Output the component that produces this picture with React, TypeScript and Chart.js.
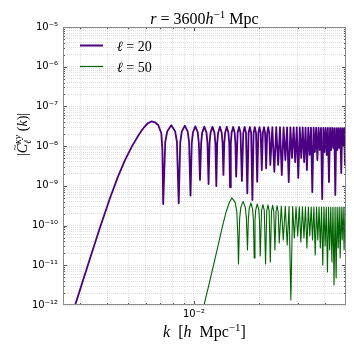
import React, { useEffect, useRef } from 'react';
import { Chart, registerables } from 'chart.js';

Chart.register(...registerables);

// ---- data (k in h/Mpc, |C| values) ----
const kL20 = [
  2.80e-3, 2.884e-3, 3.321e-3, 3.693e-3, 4.105e-3, 4.469e-3, 4.812e-3, 5.184e-3, 5.524e-3, 5.746e-3,
  5.949e-3, 6.141e-3, 6.388e-3, 6.61e-3, 6.85e-3, 7.08e-3, 7.16e-3, 7.22e-3,
  7.38e-3, 7.54e-3, 7.865e-3, 8.19e-3, 8.35e-3, 8.51e-3,
  8.65e-3, 8.79e-3, 9.075e-3, 9.36e-3, 9.50e-3, 9.64e-3,
  9.77e-3, 9.895e-3, 10.15e-3, 10.405e-3, 10.53e-3, 10.66e-3,
  10.79e-3, 10.91e-3, 11.165e-3, 11.42e-3, 11.54e-3, 11.67e-3,
  11.795e-3, 11.92e-3, 12.17e-3, 12.42e-3, 12.545e-3, 12.67e-3,
  12.79e-3, 12.92e-3, 13.165e-3, 13.41e-3, 13.54e-3, 13.66e-3,
  13.78e-3, 13.91e-3, 14.155e-3, 14.40e-3, 14.53e-3, 14.65e-3,
  14.77e-3, 14.895e-3, 15.14e-3, 15.385e-3, 15.51e-3, 15.63e-3,
  15.875e-3, 16.12e-3, 16.365e-3, 16.61e-3,
  16.855e-3, 17.10e-3, 17.345e-3, 17.59e-3,
  17.83e-3, 18.075e-3, 18.32e-3, 18.56e-3,
  18.80e-3, 19.045e-3, 19.29e-3, 19.53e-3,
  19.77e-3, 20.015e-3, 20.26e-3, 20.50e-3,
  20.74e-3, 20.985e-3, 21.23e-3, 21.47e-3,
  21.71e-3, 21.955e-3, 22.20e-3, 22.44e-3,
  22.925e-3, 23.41e-3, 23.895e-3, 24.38e-3, 24.86e-3, 25.34e-3, 25.825e-3, 26.31e-3,
  26.79e-3, 27.27e-3, 27.755e-3, 28.24e-3, 28.72e-3, 29.20e-3, 29.685e-3, 30.17e-3,
  30.65e-3, 31.13e-3, 31.615e-3, 32.10e-3, 32.58e-3, 33.06e-3, 33.545e-3, 34.03e-3,
  34.515e-3, 35.00e-3, 35.48e-3, 35.96e-3, 36.445e-3, 36.93e-3, 37.41e-3, 37.89e-3,
  38.375e-3, 38.86e-3, 39.34e-3, 39.82e-3, 40.305e-3, 40.79e-3, 41.27e-3, 41.75e-3,
  42.235e-3, 42.72e-3, 43.205e-3, 43.69e-3, 44.17e-3, 44.65e-3, 45.135e-3, 45.62e-3,
  46.10e-3, 46.58e-3, 47.065e-3, 47.55e-3, 48.03e-3, 48.51e-3, 48.995e-3, 49.48e-3,
  49.96e-3, 50.3e-3,
];
const cL20 = [
  7.9e-13, 1.27e-12, 1.44e-11, 8.69e-11, 4.81e-10, 1.68e-9, 4.38e-9, 9.86e-9, 1.78e-8, 2.47e-8,
  3.16e-8, 3.77e-8, 4.2e-8, 3.99e-8, 3.41e-8, 2.11e-8, 8.0e-9, 3.49e-10,
  1.27e-8, 2.38e-8, 3.35e-8, 2.38e-8, 1.27e-8, 3.64e-10,
  1.24e-8, 2.32e-8, 3.27e-8, 2.32e-8, 1.24e-8, 5.65e-10,
  1.20e-8, 2.24e-8, 3.15e-8, 2.24e-8, 1.20e-8, 1.41e-9,
  1.17e-8, 2.19e-8, 3.09e-8, 2.19e-8, 1.17e-8, 1.11e-9,
  1.17e-8, 2.19e-8, 3.08e-8, 2.19e-8, 1.17e-8, 9.9e-10,
  1.17e-8, 2.18e-8, 3.07e-8, 2.18e-8, 1.17e-8, 1.88e-9,
  1.16e-8, 2.17e-8, 3.06e-8, 2.17e-8, 1.16e-8, 9.2e-10,
  1.16e-8, 2.17e-8, 3.05e-8, 2.17e-8, 1.16e-8, 1.70e-9,
  2.17e-8, 3.05e-8, 2.17e-8, 1.33e-9,
  2.16e-8, 3.04e-8, 2.16e-8, 6.5e-10,
  2.15e-8, 3.03e-8, 2.15e-8, 4.4e-10,
  2.14e-8, 3.02e-8, 2.14e-8, 1.27e-9,
  2.14e-8, 3.02e-8, 2.14e-8, 2.51e-9,
  2.14e-8, 3.01e-8, 2.14e-8, 2.77e-9,
  2.13e-8, 3.0e-8, 2.13e-8, 3.36e-9,
  3.0e-8, 2.28e-9, 2.99e-8, 3.36e-9, 2.99e-8, 1.88e-9, 2.98e-8, 4.48e-9,
  2.98e-8, 1.25e-9, 2.97e-8, 5.04e-9, 2.97e-8, 3.99e-9, 2.96e-8, 1.58e-9,
  2.96e-8, 5.04e-9, 2.95e-8, 3.99e-9, 2.94e-8, 2.51e-9, 2.93e-8, 6.0e-9,
  2.92e-8, 7.0e-10, 2.92e-8, 7.13e-9, 2.91e-8, 4.48e-9, 2.90e-8, 8.0e-9,
  2.89e-8, 4.67e-10, 2.89e-8, 7.13e-9, 2.88e-8, 6.0e-9, 2.87e-8, 1.25e-9,
  2.86e-8, 8.0e-9, 2.86e-8, 9.0e-9, 2.85e-8, 5.9e-10, 2.84e-8, 8.0e-9,
  2.84e-8, 9.0e-9, 2.83e-8, 2.11e-9, 2.83e-8, 1.01e-8, 2.82e-8, 3.36e-9,
  2.82e-8, 2.6e-8,
];
const kL50 = [
  1.10e-2, 1.113e-2, 1.186e-2, 1.264e-2, 1.347e-2, 1.405e-2, 1.451e-2, 1.493e-2,
  1.546e-2, 1.574e-2, 1.591e-2, 1.602e-2,
  1.622e-2, 1.642e-2, 1.682e-2, 1.722e-2, 1.742e-2, 1.762e-2,
  1.778e-2, 1.7945e-2, 1.827e-2, 1.8595e-2, 1.876e-2, 1.892e-2,
  1.908e-2, 1.923e-2, 1.9545e-2, 1.986e-2, 2.001e-2, 2.017e-2,
  2.046e-2, 2.0755e-2, 2.105e-2, 2.134e-2,
  2.1615e-2, 2.189e-2, 2.2165e-2, 2.244e-2,
  2.272e-2, 2.30e-2, 2.328e-2, 2.356e-2,
  2.3835e-2, 2.411e-2, 2.4385e-2, 2.466e-2,
  2.5205e-2, 2.575e-2, 2.629e-2, 2.683e-2, 2.736e-2, 2.789e-2, 2.8415e-2, 2.894e-2,
  2.946e-2, 2.998e-2, 3.0495e-2, 3.101e-2, 3.1525e-2, 3.204e-2, 3.255e-2, 3.306e-2,
  3.357e-2, 3.408e-2, 3.4585e-2, 3.509e-2, 3.5595e-2, 3.610e-2, 3.66e-2, 3.710e-2,
  3.76e-2, 3.810e-2, 3.86e-2, 3.910e-2, 3.9595e-2, 4.009e-2, 4.0585e-2, 4.108e-2,
  4.1575e-2, 4.207e-2, 4.2565e-2, 4.306e-2, 4.3555e-2, 4.405e-2, 4.4545e-2, 4.504e-2,
  4.5535e-2, 4.603e-2, 4.6525e-2, 4.702e-2, 4.7515e-2, 4.801e-2, 4.8505e-2, 4.900e-2,
  4.9495e-2, 4.999e-2, 5.05e-2,
];
const cL50 = [
  7e-13, 1.0e-12, 4.27e-12, 1.92e-11, 8.69e-11, 2.20e-10, 3.71e-10, 4.96e-10,
  3.84e-10, 2.24e-10, 5.80e-11, 1.08e-11,
  1.54e-10, 2.88e-10, 4.06e-10, 2.88e-10, 1.54e-10, 2.43e-11,
  1.41e-10, 2.63e-10, 3.70e-10, 2.63e-10, 1.41e-10, 1.53e-11,
  1.33e-10, 2.48e-10, 3.49e-10, 2.48e-10, 1.33e-10, 1.71e-11,
  2.40e-10, 3.38e-10, 2.40e-10, 1.08e-11,
  2.34e-10, 3.30e-10, 2.34e-10, 1.21e-11,
  2.29e-10, 3.22e-10, 2.29e-10, 2.43e-11,
  2.24e-10, 3.16e-10, 2.24e-10, 3.64e-11,
  3.10e-10, 4.34e-11, 3.06e-10, 3.24e-11, 3.03e-10, 1.34e-12, 3.0e-10, 4.86e-11,
  2.98e-10, 5.47e-11, 2.97e-10, 3.87e-11, 2.96e-10, 4.86e-11, 2.95e-10, 2.72e-11,
  2.94e-10, 5.47e-11, 2.93e-10, 4.34e-11, 2.93e-10, 1.82e-11, 2.92e-10, 4.34e-11,
  2.92e-10, 2.72e-11, 2.91e-10, 1.02e-11, 2.91e-10, 3.06e-11, 2.90e-10, 6.78e-12,
  2.90e-10, 2.43e-11, 2.89e-10, 1.21e-11, 2.89e-10, 3.19e-12, 2.89e-10, 4.79e-12,
  2.88e-10, 2.72e-11, 2.88e-10, 1.53e-11, 2.88e-10, 4.34e-11, 2.87e-10, 2.43e-11,
  2.87e-10, 3.24e-11, 2.87e-10,
];

const seriesLabels = ['20', '50'];
const seriesColors = ['#4b0082', '#006400'];

const xRange = [0.0025, 0.05];
const yRange = [1e-12, 1e-5];
const xGridValues = [0.003, 0.004, 0.005, 0.006, 0.007, 0.008, 0.009, 0.01, 0.02, 0.03, 0.04];
const xMajorTicks = [0.01];
const xTickLabels = ['10⁻²'];
const yMajorTicks = [1e-12, 1e-11, 1e-10, 1e-9, 1e-8, 1e-7, 1e-6, 1e-5];
const yTickLabels = ['10⁻¹²', '10⁻¹¹', '10⁻¹⁰', '10⁻⁹', '10⁻⁸', '10⁻⁷', '10⁻⁶', '10⁻⁵'];
const minorMultipliers = [1, 2, 3, 4, 5, 6, 7, 8, 9];

const titleText = { r: 'r', rest: ' = 3600', h: 'h', exp: '−1', unit: ' Mpc' };

const SERIF = '"Liberation Serif", "DejaVu Serif", serif';
const SANS = '"DejaVu Sans", sans-serif';
const GRID = 'rgba(0,0,0,0.12)';
const FRAME = '#8a8a8a';
const TICK = '#555555';

const yGridValues: number[] = [];
yMajorTicks.forEach((d, i) => {
  if (i === yMajorTicks.length - 1) { yGridValues.push(d); return; }
  minorMultipliers.forEach((m) => yGridValues.push(m * d));
});

function matchIdx(v: number, list: number[]) {
  for (let i = 0; i < list.length; i++) {
    if (Math.abs(Math.log10(v) - Math.log10(list[i])) < 1e-6) return i;
  }
  return -1;
}

type Seg = { t: string; it?: boolean; sz?: number; dy?: number; over?: boolean; stack?: boolean };

function segFont(s: Seg, base: number) {
  return `${s.it ? 'italic ' : ''}${s.sz ?? base}px ${SERIF}`;
}

function layoutRich(ctx: CanvasRenderingContext2D, segs: Seg[], base: number) {
  let cx = 0;
  let lastStart = 0;
  let lastW = 0;
  const out: { s: Seg; x: number }[] = [];
  for (const s of segs) {
    ctx.font = segFont(s, base);
    const w = ctx.measureText(s.t).width;
    if (s.over) {
      out.push({ s, x: lastStart + lastW / 2 - w / 2 + 1 });
    } else if (s.stack) {
      out.push({ s, x: lastStart });
      cx = Math.max(cx, lastStart + w);
    } else {
      out.push({ s, x: cx });
      lastStart = cx;
      lastW = w;
      cx += w;
    }
  }
  return { items: out, width: cx };
}

function drawRich(ctx: CanvasRenderingContext2D, segs: Seg[], x: number, y: number, base: number, align: 'left' | 'center') {
  const { items, width } = layoutRich(ctx, segs, base);
  const x0 = align === 'center' ? x - width / 2 : x;
  ctx.textAlign = 'left';
  ctx.textBaseline = 'alphabetic';
  for (const it of items) {
    ctx.font = segFont(it.s, base);
    ctx.fillText(it.s.t, x0 + it.x, y + (it.s.dy ?? 0));
  }
}

const decorPlugin = {
  id: 'decor',
  afterDraw(chart: any) {
    const { ctx, chartArea: a, scales } = chart;
    const xs = scales.x;
    const ys = scales.y;
    ctx.save();
    // inward ticks
    ctx.strokeStyle = TICK;
    ctx.lineWidth = 1;
    ctx.beginPath();
    for (const v of yGridValues) {
      const y = Math.round(ys.getPixelForValue(v)) + 0.5;
      if (y < a.top || y > a.bottom) continue;
      const len = matchIdx(v, yMajorTicks) >= 0 ? 4 : 2;
      ctx.moveTo(a.left, y); ctx.lineTo(a.left + len, y);
      ctx.moveTo(a.right, y); ctx.lineTo(a.right - len, y);
    }
    for (const v of xGridValues) {
      const x = Math.round(xs.getPixelForValue(v)) + 0.5;
      const len = matchIdx(v, xMajorTicks) >= 0 ? 4 : 2;
      ctx.moveTo(x, a.bottom); ctx.lineTo(x, a.bottom - len);
      ctx.moveTo(x, a.top); ctx.lineTo(x, a.top + len);
    }
    ctx.stroke();
    // frame
    ctx.strokeStyle = FRAME;
    ctx.lineWidth = 1;
    ctx.strokeRect(a.left + 0.5, a.top + 0.5, a.right - a.left - 1, a.bottom - a.top - 1);

    const cx = (a.left + a.right) / 2;
    ctx.fillStyle = '#000';
    // title
    drawRich(ctx, [
      { t: titleText.r, it: true },
      { t: titleText.rest },
      { t: titleText.h, it: true },
      { t: titleText.exp, sz: 11, dy: -6 },
      { t: titleText.unit },
    ], cx, 24.3, 16, 'center');
    // x title
    drawRich(ctx, [
      { t: 'k', it: true },
      { t: '\u2002[' },
      { t: 'h', it: true },
      { t: '\u2002Mpc' },
      { t: '−1', sz: 11, dy: -6 },
      { t: ']' },
    ], cx, 337, 16, 'center');
    // y title (rotated)
    ctx.save();
    ctx.translate(26.5, 134.5);
    ctx.rotate(-Math.PI / 2);
    drawRich(ctx, [
      { t: '|' },
      { t: 'C', it: true },
      { t: '~', sz: 11, dy: -9, over: true },
      { t: 'κy', it: true, sz: 10, dy: -6 },
      { t: 'ℓ', it: true, sz: 10, dy: 4, stack: true },
      { t: ' (' },
      { t: 'k', it: true },
      { t: ')|' },
    ], 0, 0, 14, 'center');
    ctx.restore();
    // legend
    const legendY = [45.5, 66.5];
    const legendW = [2, 1.2];
    for (let i = 0; i < 2; i++) {
      ctx.strokeStyle = seriesColors[i];
      ctx.lineWidth = legendW[i];
      ctx.beginPath();
      ctx.moveTo(80, legendY[i]);
      ctx.lineTo(103, legendY[i]);
      ctx.stroke();
      ctx.fillStyle = '#000';
      drawRich(ctx, [{ t: 'ℓ', it: true }, { t: ' = ' + seriesLabels[i] }], 117, legendY[i] + 5, 14, 'left');
    }
    ctx.restore();
  },
};

export default function App() {
  const ref = useRef<HTMLCanvasElement>(null);
  useEffect(() => {
    const canvas = ref.current;
    if (!canvas) return;
    const chart = new Chart(canvas, {
      type: 'line',
      data: {
        datasets: [
          {
            label: 'ℓ = ' + seriesLabels[0],
            data: kL20.map((k, i) => ({ x: k, y: cL20[i] })),
            borderColor: seriesColors[0],
            borderWidth: 1.8,
            pointRadius: 0,
            tension: 0,
            borderJoinStyle: 'round',
            fill: false,
            order: 1,
          },
          {
            label: 'ℓ = ' + seriesLabels[1],
            data: kL50.map((k, i) => ({ x: k, y: cL50[i] })),
            borderColor: seriesColors[1],
            borderWidth: 1.1,
            pointRadius: 0,
            tension: 0,
            borderJoinStyle: 'round',
            fill: false,
            order: 0,
          },
        ],
      },
      options: {
        responsive: false,
        animation: false,
        devicePixelRatio: 1,
        events: [],
        layout: { padding: { left: 0, right: 8, top: 27, bottom: 0 } },
        plugins: { legend: { display: false }, title: { display: false }, tooltip: { enabled: false } },
        scales: {
          x: {
            type: 'logarithmic',
            min: xRange[0],
            max: xRange[1],
            afterBuildTicks: (s: any) => { s.ticks = xGridValues.map((v) => ({ value: v })); },
            afterFit: (s: any) => { s.height = 49; },
            ticks: {
              autoSkip: false,
              maxRotation: 0,
              minRotation: 0,
              padding: 3,
              color: '#000',
              font: { family: SANS, size: 10 },
              callback: (v: any) => { const i = matchIdx(Number(v), xMajorTicks); return i >= 0 ? xTickLabels[i] : ''; },
            },
            grid: { color: GRID, lineWidth: 1, drawTicks: false },
            border: { display: false, dash: [1, 1] },
          },
          y: {
            type: 'logarithmic',
            min: yRange[0],
            max: yRange[1],
            afterBuildTicks: (s: any) => { s.ticks = yGridValues.map((v) => ({ value: v })); },
            afterFit: (s: any) => { s.width = 63; },
            ticks: {
              autoSkip: false,
              padding: 5,
              color: '#000',
              font: { family: SANS, size: 10 },
              callback: (v: any) => { const i = matchIdx(Number(v), yMajorTicks); return i >= 0 ? yTickLabels[i] : ''; },
            },
            grid: { color: GRID, lineWidth: 1, drawTicks: false },
            border: { display: false, dash: [1, 1] },
          },
        },
      } as any,
      plugins: [decorPlugin],
    });
    return () => chart.destroy();
  }, []);
  return (
    <div style={{ position: 'fixed', left: 0, top: 0, width: 354, height: 354, background: '#fff' }}>
      <canvas ref={ref} width={354} height={354} style={{ display: 'block', width: 354, height: 354 }} />
    </div>
  );
}
